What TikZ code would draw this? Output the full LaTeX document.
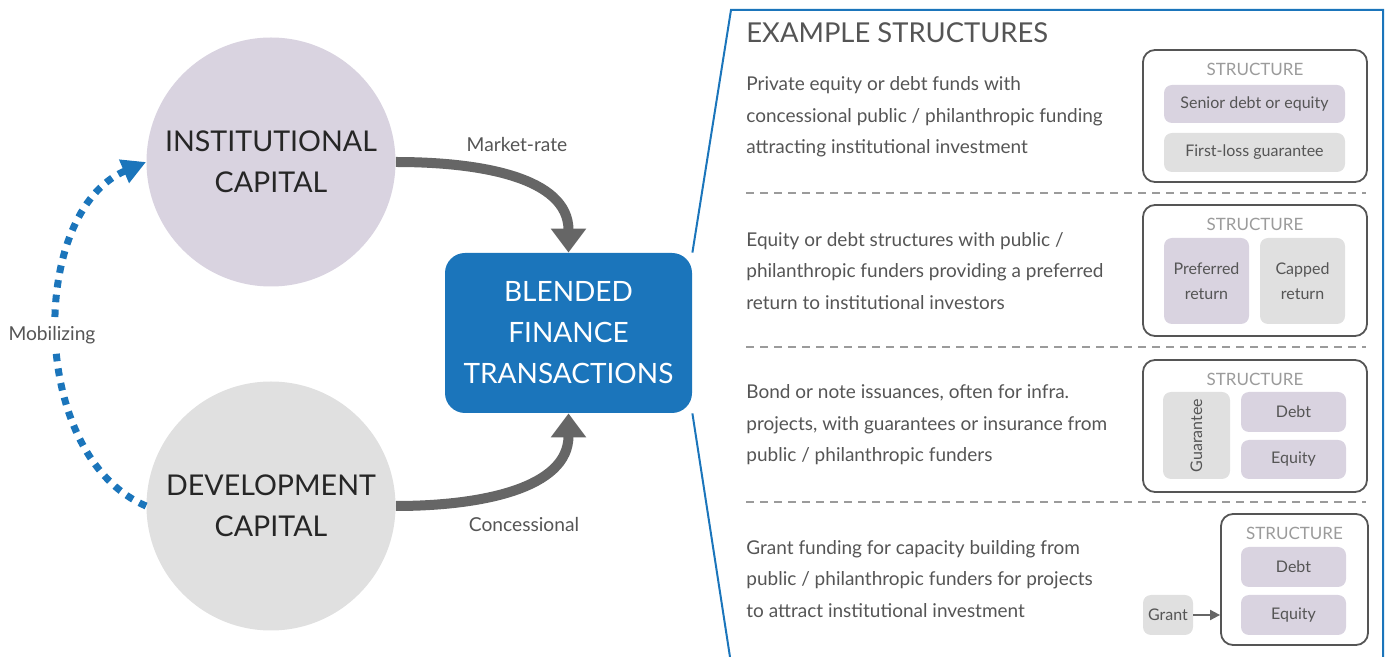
\documentclass[tikz,border=0pt]{standalone}
\usepackage{fontspec}
\setmainfont{Lato}
\usetikzlibrary{positioning, arrows.meta}
\definecolor{blendBlue}{RGB}{27,117,187}
\definecolor{textGray}{RGB}{85,85,85}
\definecolor{lightText}{RGB}{155,155,155}
\definecolor{lavender}{RGB}{217,211,224}
\definecolor{paleGray}{RGB}{224,224,224}
\definecolor{arrowGray}{RGB}{102,102,102}
\tikzstyle{canvas} = [x = 0.5pt, y = -0.5pt]
\tikzstyle{capitalCircle} = [circle, minimum size = 124.5pt, inner sep = 0pt, align = center, text = black!85, font = \fontsize{14.3}{20.5}\selectfont]
\tikzstyle{blendedBox} = [rectangle, rounded corners = 10pt, fill = blendBlue, text = white, align = center, minimum width = 123.5pt, minimum height = 80pt, font = \fontsize{14}{20.5}\selectfont]
\tikzstyle{flowArrow} = [color = arrowGray, line width = 5pt, -{Triangle[width = 17pt, length = 12pt]}]
\tikzstyle{mobilizeArrow} = [color = blendBlue, line width = 3.5pt, dash pattern = on 3.8pt off 3.6pt, -{Triangle[width = 12pt, length = 12pt]}]
\tikzstyle{flowLabel} = [text = textGray, font = \fontsize{9.6}{11}\selectfont, inner sep = 1pt]
\tikzstyle{panelLine} = [color = blendBlue, line width = 1pt]
\tikzstyle{panelTitle} = [anchor = west, inner sep = 0pt, text = textGray, font = \fontsize{13.7}{15}\selectfont]
\tikzstyle{sectionText} = [anchor = west, inner sep = 0pt, align = left, text = textGray, font = \fontsize{9.5}{15.75}\selectfont]
\tikzstyle{sectionRule} = [color = lightText, line width = 0.6pt, dash pattern = on 4pt off 3pt]
\tikzstyle{structureFrame} = [draw = textGray, line width = 0.9pt, rounded corners = 6pt, inner sep = 0pt]
\tikzstyle{structureTitle} = [inner sep = 0pt, text = lightText, font = \fontsize{8.5}{9}\selectfont]
\tikzstyle{innerBox} = [rounded corners = 4pt, inner sep = 0pt, align = center, text = textGray, font = \fontsize{8}{12.5}\selectfont]
\tikzstyle{grantArrow} = [color = arrowGray, line width = 0.9pt, -{Triangle[width = 5pt, length = 5pt]}]
\newcommand{\structureFrame}[5]{\node [structureFrame, minimum width = {(#4 - #2) * 0.5pt}, minimum height = {(#5 - #3) * 0.5pt}] (#1) at ({(#2 + #4) / 2}, {(#3 + #5) / 2}) {};
  \node [structureTitle, below = 7pt of #1.north] (#1Title) {STRUCTURE};}
\newcommand{\innerBox}[7]{\node [innerBox, fill = #6, minimum width = {(#4 - #2) * 0.5pt}, minimum height = {(#5 - #3) * 0.5pt}] (#1) at ({(#2 + #4) / 2}, {(#3 + #5) / 2}) {#7};}
\newcommand{\sectionRule}[1]{\draw [sectionRule] (746, #1) -- (1366, #1);}

\begin{document}
\begin{tikzpicture}[canvas]
  \useasboundingbox (0, 0) rectangle (1389, 657);

  % left side
  \node [capitalCircle, fill = lavender] (institutional) at (271, 162) {INSTITUTIONAL\\CAPITAL};
  \node [capitalCircle, fill = paleGray] (development) at (271, 506) {DEVELOPMENT\\CAPITAL};
  \node [blendedBox] (blended) at (568.5, 333) {BLENDED\\FINANCE\\TRANSACTIONS};

  \draw [flowArrow] (institutional.east) .. controls +(85, 0) and +(0, -75) .. (blended.north);
  \draw [flowArrow] (development.east) .. controls +(85, 0) and +(0, 75) .. (blended.south);
  \node [flowLabel] (marketRate) at (517, 145) {Market-rate};
  \node [flowLabel] (concessional) at (524, 525) {Concessional};

  \draw [mobilizeArrow] (development.west) .. controls +(-118, -50) and +(-118, 50) .. (institutional.west);
  \node [flowLabel, fill = white, inner sep = 3pt] (mobilizing) at (52, 335) {Mobilizing};

  % callout panel
  \draw [panelLine] (blended.north east) -- (731, 10) -- (1383, 10) -- (1383, 657);
  \draw [panelLine] (blended.south east) -- (730, 657);
  \node [panelTitle] (exampleTitle) at (746, 33) {EXAMPLE STRUCTURES};

  % section 1
  \node [sectionText] (textOne) at (746, 117) {Private equity or debt funds with\\concessional public / philanthropic funding\\attracting institutional investment};
  \structureFrame{frameOne}{1143}{50}{1367}{182}
  \innerBox{seniorDebt}{1164}{85}{1345}{123}{lavender}{Senior debt or equity}
  \innerBox{firstLoss}{1164}{133}{1345}{172}{paleGray}{First-loss guarantee}
  \sectionRule{193}

  % section 2
  \node [sectionText] (textTwo) at (746, 271) {Equity or debt structures with public /\\philanthropic funders providing a preferred\\return to institutional investors};
  \structureFrame{frameTwo}{1143}{205}{1367}{336}
  \innerBox{preferred}{1164}{238}{1249}{324}{lavender}{Preferred\\return}
  \innerBox{capped}{1260}{238}{1345}{324}{paleGray}{Capped\\return}
  \sectionRule{347}

  % section 3
  \node [sectionText] (textThree) at (746, 425) {Bond or note issuances, often for infra.\\projects, with guarantees or insurance from\\public / philanthropic funders};
  \structureFrame{frameThree}{1143}{360}{1367}{492}
  \innerBox{guarantee}{1163}{392}{1230}{479}{paleGray}{}
  \node [innerBox, rotate = 90] (guaranteeText) at (guarantee.center) {Guarantee};
  \innerBox{debtThree}{1241}{392}{1346}{432}{lavender}{Debt}
  \innerBox{equityThree}{1241}{440}{1346}{479}{lavender}{Equity}
  \sectionRule{502}

  % section 4
  \node [sectionText] (textFour) at (746, 579) {Grant funding for capacity building from\\public / philanthropic funders for projects\\to attract institutional investment};
  \structureFrame{frameFour}{1221}{514}{1368}{645}
  \innerBox{debtFour}{1241}{547}{1346}{587}{lavender}{Debt}
  \innerBox{equityFour}{1241}{595}{1346}{635}{lavender}{Equity}
  \innerBox{grant}{1143}{595}{1193}{635}{paleGray}{Grant}
  \draw [grantArrow] (grant.east) -- (grant.east -| frameFour.west);
\end{tikzpicture}
\end{document}
